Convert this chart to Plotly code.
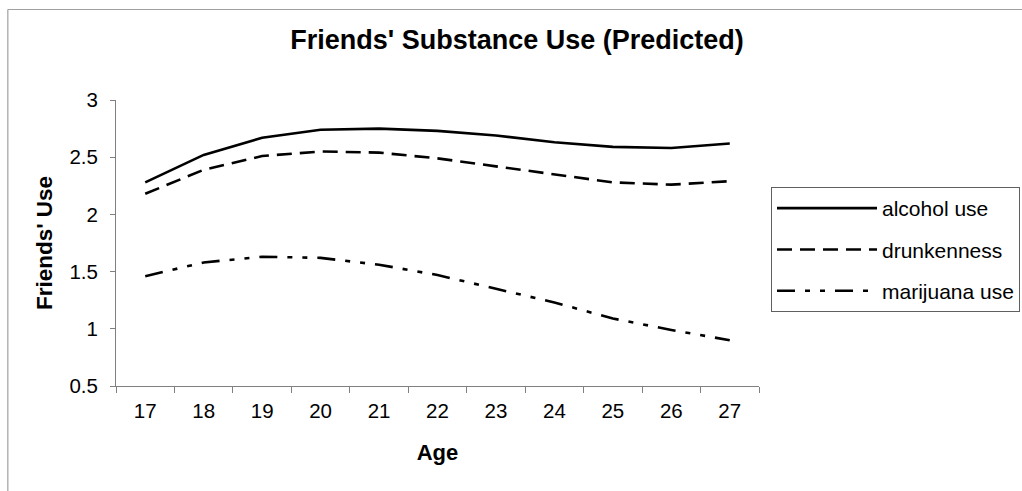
import plotly.graph_objects as go

# Ages on the x axis and predicted friends' use for each substance
ages = ["17", "18", "19", "20", "21", "22", "23", "24", "25", "26", "27"]
alcohol_use = [2.28, 2.52, 2.67, 2.74, 2.75, 2.73, 2.69, 2.63, 2.59, 2.58, 2.62]
drunkenness = [2.18, 2.39, 2.51, 2.55, 2.54, 2.49, 2.42, 2.35, 2.28, 2.26, 2.29]
marijuana_use = [1.46, 1.58, 1.63, 1.62, 1.56, 1.47, 1.35, 1.23, 1.09, 0.99, 0.90]

y_ticks = [0.5, 1, 1.5, 2, 2.5, 3]
y_tick_text = ["0.5", "1", "1.5", "2", "2.5", "3"]

FONT = "Liberation Sans, Arial, sans-serif"
AXIS_GREY = "#808080"

W, H = 1022, 491
L, R, T, B = 116, 261, 100, 105
plot_w = W - L - R
plot_h = H - T - B

fig = go.Figure()

series = [
    ("alcohol use", alcohol_use, "solid"),
    ("drunkenness", drunkenness, "15px,8px"),
    ("marijuana use", marijuana_use, "18px,10px,5px,10px,5px,10px"),
]
for name, vals, dash in series:
    fig.add_trace(go.Scatter(
        x=ages, y=vals, name=name, mode="lines", legendgroup=name,
        line=dict(color="black", width=2.6, dash=dash),
    ))

# outer chart frame (top and left edges visible)
fx0 = (7.5 - L) / plot_w
fy1 = 1 + (T - 9.5) / plot_h
fig.add_shape(type="line", xref="paper", yref="paper",
              x0=fx0, x1=(W + 10 - L) / plot_w, y0=fy1, y1=fy1,
              line=dict(color="#a0a0a0", width=1.2))
fig.add_shape(type="line", xref="paper", yref="paper",
              x0=fx0, x1=fx0, y0=fy1, y1=-(B + 10) / plot_h,
              line=dict(color="#a0a0a0", width=1.2))

fig.update_layout(
    width=W, height=H,
    margin=dict(l=L, r=R, t=T, b=B),
    paper_bgcolor="white", plot_bgcolor="white",
    font=dict(family=FONT, color="black", size=20),
    title=dict(text="<b>Friends' Substance Use (Predicted)</b>",
               xref="container", yref="container",
               x=517 / W, xanchor="center",
               y=1 - 40 / H, yanchor="middle",
               font=dict(size=27, family=FONT, color="black")),
    showlegend=True,
    legend=dict(
        xref="container", yref="container",
        x=771 / W, xanchor="left",
        y=1 - 187 / H, yanchor="top",
        bordercolor="#606060", borderwidth=1,
        bgcolor="white",
        font=dict(size=21, family=FONT),
        itemwidth=100,
        tracegroupgap=11,
        traceorder="grouped",
    ),
    xaxis=dict(
        type="category", range=[-0.5, 10.5],
        showline=True, linecolor=AXIS_GREY, linewidth=1,
        ticks="outside", ticklen=6, tickcolor=AXIS_GREY, tickson="boundaries",
        showgrid=False, zeroline=False,
        ticklabelstandoff=6,
        title=dict(text="<b>Age</b>", font=dict(size=22, family=FONT), standoff=24),
        tickfont=dict(size=20.5),
    ),
    yaxis=dict(
        range=[0.5, 3], tickvals=y_ticks, ticktext=y_tick_text,
        showline=True, linecolor=AXIS_GREY, linewidth=1,
        ticks="outside", ticklen=5, tickcolor=AXIS_GREY,
        showgrid=False, zeroline=False,
        ticklabelstandoff=8,
        title=dict(text="<b>Friends' Use</b>", font=dict(size=22.5, family=FONT), standoff=10),
        tickfont=dict(size=20.5),
    ),
)

fig.write_html("out.html")
